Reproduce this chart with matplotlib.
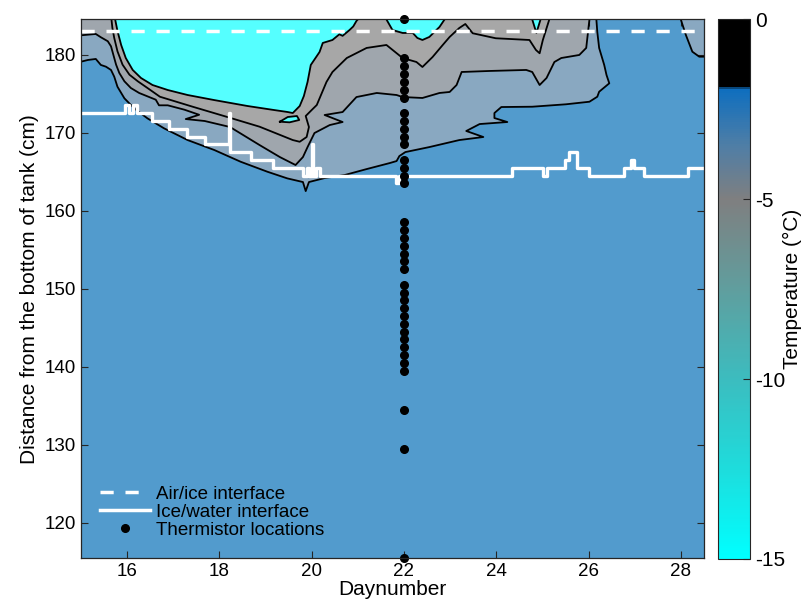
import matplotlib
matplotlib.use("Agg")
import matplotlib.pyplot as plt
from matplotlib.colors import LinearSegmentedColormap, Normalize
from matplotlib.cm import ScalarMappable
from matplotlib.lines import Line2D

plt.rcParams["font.family"] = ["Liberation Sans", "DejaVu Sans"]
plt.rcParams["axes.unicode_minus"] = False

# --- isotherms traced off the temperature field (day, height in cm) ---
# lowest contour: ice / water boundary in the temperature field
c1_day = [15.00, 15.15, 15.32, 15.43, 15.54, 15.65, 15.72, 15.79, 15.94, 16.15, 16.44, 16.80,
          17.31, 17.89, 18.46, 19.04, 19.47, 19.81, 19.87, 19.94, 20.28, 20.71, 21.19, 21.69,
          21.84, 21.90, 22.03, 22.55, 23.20, 23.72, 23.35, 23.64, 24.24, 23.96, 23.96, 24.11,
          24.78, 25.51, 26.02, 26.19, 26.23, 26.45, 26.39, 26.34, 26.23, 26.19, 26.17]
c1_cm = [179.09, 179.31, 179.44, 178.67, 178.45, 178.03, 177.17, 175.88, 174.40, 173.12, 171.83, 170.55,
         169.05, 167.77, 166.27, 164.99, 164.14, 163.67, 162.51, 163.67, 164.18, 164.56, 165.33, 166.10,
         166.36, 167.00, 167.51, 168.15, 169.05, 169.44, 170.21, 171.10, 171.36, 171.87, 172.51, 173.28,
         173.32, 173.63, 173.96, 174.60, 175.24, 176.32, 177.38, 178.67, 180.85, 182.90, 184.50]
# small piece of the same contour in the top right corner
c1b_day = [28.00, 28.11, 28.25, 28.40, 28.50]
c1b_cm = [184.50, 182.51, 180.37, 179.73, 179.73]

c2_day = [15.00, 15.32, 15.43, 15.58, 15.65, 15.70, 15.76, 15.83, 15.94, 16.08, 16.26, 16.44,
          16.62, 16.69, 16.88, 17.24, 17.56, 17.27, 17.68, 18.23, 18.87, 19.31, 19.65, 19.81,
          19.91, 20.06, 20.39, 20.67, 20.28, 20.67, 20.97, 21.41, 21.84, 21.97, 22.40, 22.77,
          22.99, 23.14, 23.25, 23.85, 24.65, 24.78, 24.94, 25.09, 25.26, 25.41, 25.80, 25.95, 26.02]
c2_cm = [182.47, 182.64, 182.22, 181.71, 181.06, 179.99, 178.71, 177.64, 176.58, 175.72, 175.08, 174.65,
         174.22, 173.50, 173.50, 172.94, 172.29, 171.74, 171.49, 170.72, 168.41, 166.87, 165.85, 166.87,
         168.15, 169.95, 170.97, 171.36, 172.26, 172.64, 174.56, 175.08, 174.82, 174.56, 174.44, 175.08,
         175.21, 176.10, 177.77, 177.90, 178.03, 177.77, 176.10, 177.00, 179.05, 179.56, 179.95, 180.85, 184.50]

c3_day = [15.66, 15.68, 15.72, 15.79, 15.90, 16.05, 16.23, 16.44, 16.71, 17.42, 18.15, 18.87,
          19.59, 19.74, 19.89, 19.94, 19.87, 20.00, 20.11, 20.32, 20.45, 20.76, 21.19, 21.62,
          21.97, 22.27, 22.40, 22.62, 22.84, 22.99, 23.20, 23.33, 23.49, 23.99, 24.72, 24.86,
          24.94, 25.01, 25.15]
c3_cm = [184.50, 183.41, 182.13, 180.42, 178.71, 177.42, 176.58, 175.72, 174.60, 173.32, 172.04, 170.76,
         169.05, 168.83, 169.44, 170.72, 172.13, 172.90, 173.54, 176.49, 177.77, 179.56, 180.85, 181.23,
         179.56, 179.05, 178.41, 179.69, 181.23, 182.26, 183.41, 183.92, 182.73, 182.09, 181.87, 180.59,
         180.17, 181.87, 184.50]

# coldest contour (cyan)
c4_day = [15.74, 15.79, 15.87, 15.97, 16.12, 16.30, 16.55, 16.88, 17.31, 17.88, 18.61, 19.18,
          19.48, 19.59, 19.74, 19.83, 19.91, 19.98, 20.17, 20.24, 20.45, 20.60, 20.67, 20.82,
          20.90, 20.97, 21.00]
c4_cm = [184.50, 183.03, 181.23, 179.56, 178.03, 177.00, 176.10, 175.46, 174.82, 174.18, 173.41, 172.90,
         172.64, 172.51, 173.41, 174.69, 176.49, 178.67, 180.33, 181.49, 181.87, 182.60, 182.40, 183.15,
         183.60, 184.31, 184.50]
c4b_day = [21.62, 21.75, 21.97, 22.19, 22.29, 22.40, 22.55, 22.77, 22.88]
c4b_cm = [184.50, 183.15, 182.77, 182.77, 182.13, 181.87, 182.26, 183.54, 184.50]
c4c_day = [24.78, 24.87, 24.96]
c4c_cm = [184.50, 182.77, 184.50]
lens_day = [19.31, 19.48, 19.68, 19.73, 19.52, 19.31]
lens_cm = [171.40, 172.00, 172.13, 171.62, 171.32, 171.40]

# interfaces
air_ice_cm = 183.0
iw_day = [15.00, 15.96, 16.04, 16.12, 16.22, 16.54, 16.90, 17.29, 17.69, 18.20, 18.23, 18.68,
          19.17, 19.81, 19.90, 19.95, 20.00, 20.03, 20.10, 20.17, 21.83, 21.90, 24.34, 25.01,
          25.11, 25.48, 25.58, 25.74, 26.02, 26.77, 26.92, 26.98, 27.20, 28.15, 28.50]
iw_cm = [172.5, 173.5, 172.5, 173.5, 172.5, 171.5, 170.5, 169.5, 168.5, 172.5, 167.5, 166.5,
         165.5, 164.5, 165.5, 164.5, 168.5, 164.5, 165.5, 164.5, 163.5, 164.5, 165.5, 164.5,
         165.5, 166.5, 167.5, 165.5, 164.5, 165.5, 166.5, 165.5, 164.5, 165.5, 165.5]

therm_day = 22.0
therm_cm = [184.5, 179.5, 178.5, 177.5, 176.5, 175.5, 174.5, 172.5, 171.5, 170.5, 169.5, 168.5,
            166.5, 165.5, 164.5, 163.5, 158.5, 157.5, 156.5, 155.5, 154.5, 153.5, 152.5, 150.5,
            149.5, 148.5, 147.5, 146.5, 145.5, 144.5, 143.5, 142.5, 141.5, 140.5, 139.5, 134.5,
            129.5, 115.5]

# colour scale
cb_temps = [-15, -12.5, -10, -7.5, -5, -3.5, -1.9, -1.85, 0]
cb_colors = ["#00ffff", "#1edcdc", "#3cbcbf", "#609e9e", "#7f7f80", "#4f7ea6", "#0d6ebf", "#000000", "#000000"]

water_col = "#529bcd"
band1_col = "#89a8c1"
band2_col = "#9fa6ad"
band3_col = "#a7a7a7"
cold_col = "#55ffff"

x_lim = (15, 28.5)
y_lim = (115.5, 184.5)


def fill_to_top(ax, days, cms, color, z):
    xs = list(days) + [days[-1], days[0]]
    ys = list(cms) + [y_lim[1], y_lim[1]]
    ax.fill(xs, ys, color=color, lw=0, zorder=z)


fig = plt.figure(figsize=(8.11, 6.08), dpi=100)
ax = fig.add_axes([0.0999, 0.0822, 0.768, 0.8858])
ax.set_facecolor(water_col)

fill_to_top(ax, c1_day, c1_cm, band1_col, 1)
fill_to_top(ax, c1b_day, c1b_cm, band1_col, 1)
fill_to_top(ax, c2_day, c2_cm, band2_col, 2)
fill_to_top(ax, c3_day, c3_cm, band3_col, 3)
fill_to_top(ax, c4_day, c4_cm, cold_col, 4)
fill_to_top(ax, c4b_day, c4b_cm, cold_col, 4)
fill_to_top(ax, c4c_day, c4c_cm, cold_col, 4)
ax.fill(lens_day, lens_cm, color=cold_col, lw=0, zorder=4)

for d, c in [(c1_day, c1_cm), (c1b_day, c1b_cm), (c2_day, c2_cm), (c3_day, c3_cm),
             (c4_day, c4_cm), (c4b_day, c4b_cm), (c4c_day, c4c_cm), (lens_day, lens_cm)]:
    ax.plot(d, c, color="black", lw=1.3, zorder=5)

ax.axhline(air_ice_cm, color="white", lw=2.5, dashes=(3.8, 3.4), zorder=6)
ax.plot(iw_day, iw_cm, color="white", lw=2.4, drawstyle="steps-post", zorder=6)
ax.plot([therm_day] * len(therm_cm), therm_cm, "o", color="black", ms=5.5,
        clip_on=False, zorder=7)

ax.set_xlim(*x_lim)
ax.set_ylim(*y_lim)
ax.set_xticks(range(16, 29, 2))
ax.set_yticks(range(120, 181, 10))
ax.tick_params(direction="in", top=True, right=True, length=5, width=0.8,
               labelsize=13.5, color="#262626")
for s in ax.spines.values():
    s.set_color("#262626")
    s.set_linewidth(0.9)
    s.set_zorder(8)
ax.set_xlabel("Daynumber", fontsize=15, labelpad=0)
ax.set_ylabel("Distance from the bottom of tank (cm)", fontsize=15, labelpad=4)

handles = [Line2D([], [], color="white", lw=2.5, dashes=(3.8, 3.4)),
           Line2D([], [], color="white", lw=2.5),
           Line2D([], [], color="black", marker="o", ls="none", ms=5.5)]
labels = ["Air/ice interface", "Ice/water interface", "Thermistor locations"]
ax.legend(handles, labels, loc="lower left", bbox_to_anchor=(0.03, 0.036), frameon=False,
          fontsize=13.5, handlelength=2.7, handletextpad=0.3, labelspacing=0.05,
          borderpad=0, borderaxespad=0)

cmap = LinearSegmentedColormap.from_list(
    "tank", [((t + 15) / 15, c) for t, c in zip(cb_temps, cb_colors)])
cax = fig.add_axes([0.885, 0.0806, 0.040, 0.888])
cb = fig.colorbar(ScalarMappable(norm=Normalize(-15, 0), cmap=cmap), cax=cax)
cb.set_ticks([0, -5, -10, -15])
cb.set_ticklabels(["0", "-5", "-10", "-15"])
cax.tick_params(direction="in", length=5, width=0.8, labelsize=15, color="#262626")
cb.outline.set_edgecolor("#262626")
cb.set_label("Temperature (\u00b0C)", fontsize=15, labelpad=-2)

fig.savefig("out.png", dpi=100)
